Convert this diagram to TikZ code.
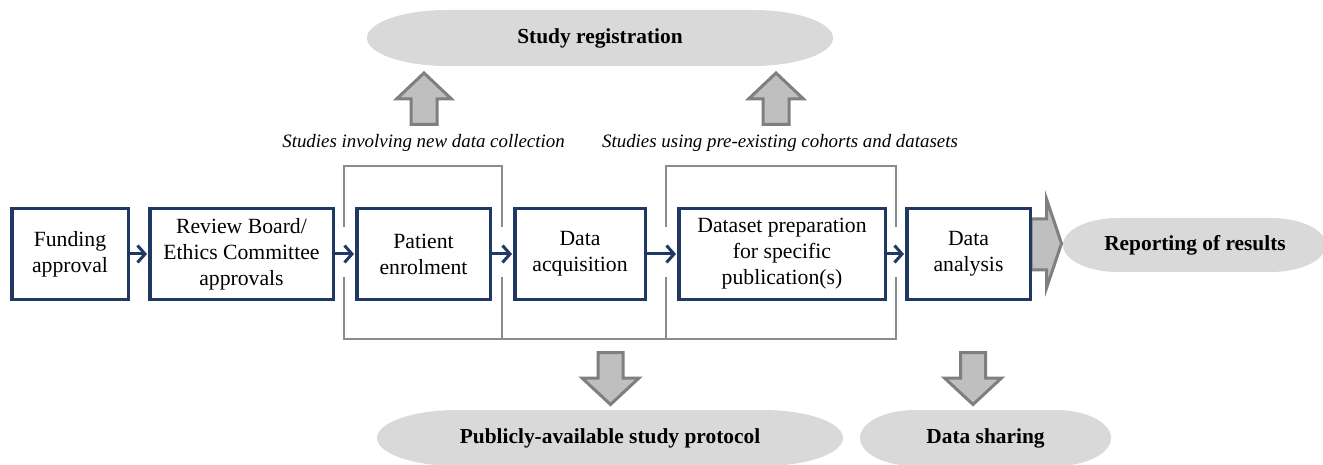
\documentclass[tikz,border=0pt]{standalone}
\usepackage{fontspec}
\setmainfont{Liberation Serif}
\usetikzlibrary{arrows.meta}
\definecolor{navy}{RGB}{31,56,100}
\definecolor{bgray}{RGB}{140,140,140}
\definecolor{agray}{RGB}{127,127,127}
\definecolor{afill}{RGB}{191,191,191}
\definecolor{pillgray}{RGB}{217,217,217}
\newcommand\pillpath[5]{%
 \fill[pillgray] ({#1+#5},#2) -- ({#3-#5},#2)
  .. controls ({#3-0.4477*#5},#2) and (#3,{#2+0.2238*(#4-#2)}) .. (#3,{(#2+#4)/2})
  .. controls (#3,{#4-0.2238*(#4-#2)}) and ({#3-0.4477*#5},#4) .. ({#3-#5},#4)
  -- ({#1+#5},#4)
  .. controls ({#1+0.4477*#5},#4) and (#1,{#4-0.2238*(#4-#2)}) .. (#1,{(#2+#4)/2})
  .. controls (#1,{#2+0.2238*(#4-#2)}) and ({#1+0.4477*#5},#2) .. cycle;}
\newcommand\uparrowshape[1]{%
 \draw[blockarrow] (#1,73) -- ({#1+27.5},99) -- ({#1+13},99) -- ({#1+13},124.5)
  -- ({#1-13},124.5) -- ({#1-13},99) -- ({#1-27.5},99) -- cycle;}
\newcommand\downarrowshape[1]{%
 \draw[blockarrow] ({#1-12.5},352.5) -- ({#1+12.5},352.5) -- ({#1+12.5},378)
  -- ({#1+28.5},378) -- (#1,404.5) -- ({#1-28.5},378) -- ({#1-12.5},378) -- cycle;}
\begin{document}
\begin{tikzpicture}[x=1pt,y=-1pt,
  stepbox/.style={draw=navy, line width=3.5pt, fill=white, align=center,
    font=\fontsize{21.7}{26}\selectfont, inner sep=0pt, minimum height=90.5pt},
  flow/.style={draw=navy, line width=3pt,
    -{Straight Barb[length=7.5pt,width=17pt]}, shorten >=1pt},
  bracket/.style={draw=bgray, line width=2.5pt},
  blockarrow/.style={draw=agray, fill=afill, line width=3pt, line join=miter},
  outtext/.style={font=\bfseries\fontsize{21.4}{26}\selectfont, inner sep=0pt},
  note/.style={font=\itshape\fontsize{18.9}{22}\selectfont, inner sep=0pt}]
\useasboundingbox (0,0) rectangle (1323,465);

% outcome pills
\pillpath{367}{10}{833}{66}{80}
\pillpath{1063}{218}{1326}{272}{55}
\pillpath{377}{410}{843}{466}{80}
\pillpath{860}{410}{1111}{466}{55}
\node[outtext] (reg) at (600,38) {Study registration};
\node[outtext] (rep) at (1195,245) {Reporting of results};
\node[outtext] (prot) at (610,438) {Publicly-available study protocol};
\node[outtext] (share) at (985.5,438) {Data sharing};

% block arrows
\uparrowshape{424}
\uparrowshape{776}
\downarrowshape{610.5}
\downarrowshape{973}
\draw[blockarrow] (1031,219) -- (1046.5,219) -- (1046.5,199) -- (1061.5,243.5)
  -- (1046.5,288) -- (1046.5,270) -- (1031,270) -- cycle;

% notes
\node[note] (n1) at (423.5,143) {Studies involving new data collection};
\node[note] (n2) at (780,143) {Studies using pre-existing cohorts and datasets};

% brackets
\draw[bracket] (344,227) -- (344,166) -- (502,166) -- (502,227);
\draw[bracket] (666,227) -- (666,166) -- (896,166) -- (896,227);
\draw[bracket] (344,277) -- (344,339) -- (896,339) -- (896,277);
\draw[bracket] (502,277) -- (502,339);
\draw[bracket] (666,277) -- (666,339);

% process boxes
\node[stepbox, minimum width=116.5pt] (fund) at (70,254) {Funding\\approval};
\node[stepbox, minimum width=183.5pt] (ethics) at (241.5,254) {Review Board/\\Ethics Committee\\approvals};
\node[stepbox, minimum width=133.5pt] (enrol) at (423.5,254) {Patient\\enrolment};
\node[stepbox, minimum width=130.5pt] (acq) at (580,254) {Data\\acquisition};
\node[stepbox, minimum width=206.5pt] (prep) at (782,254) {Dataset preparation\\for specific\\publication(s)};
\node[stepbox, minimum width=123.5pt] (anal) at (968.5,254) {Data\\analysis};

\draw[flow] (fund) -- (ethics);
\draw[flow] (ethics) -- (enrol);
\draw[flow] (enrol) -- (acq);
\draw[flow] (acq) -- (prep);
\draw[flow] (prep) -- (anal);
\end{tikzpicture}
\end{document}
